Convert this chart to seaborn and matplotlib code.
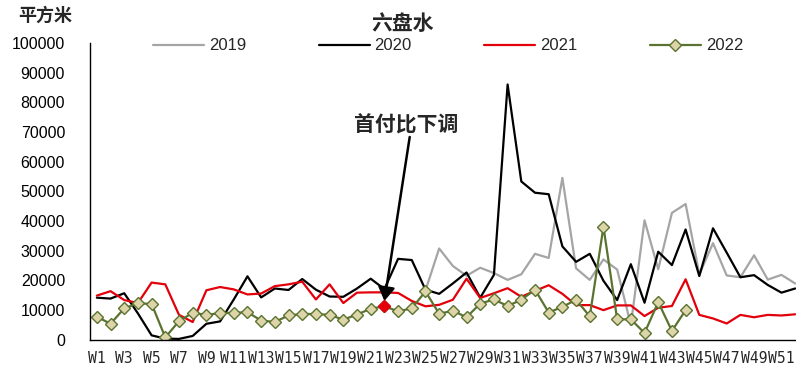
import numpy as np
import pandas as pd
import matplotlib
matplotlib.use("Agg")
import matplotlib.pyplot as plt
from matplotlib import font_manager as fm
import seaborn as sns

nan = np.nan

weeks = [f"W{i}" for i in range(1, 53)]

# weekly transaction area, square metres
s2019 = [nan] * 24 + [
    16500, 30700, 24800, 21500, 24200, 22400, 20100, 22000, 28900, 27500,
    54500, 24000, 20100, 27000, 23600, 4900, 40200, 23700, 42700, 45700,
    22000, 32500, 21600, 21000, 28400, 20200, 21800, 18900]
s2020 = [
    14100, 13800, 15600, 8800, 1400, 300, 200, 1200, 5300, 6100,
    13500, 21300, 14200, 17200, 16700, 20400, 16800, 14500, 14400, 17200,
    20500, 17000, 27200, 26800, 16800, 15400, 18900, 22600, 14100, 21800,
    86000, 53300, 49500, 49000, 31400, 26200, 28900, 19800, 13300, 25400,
    12400, 29600, 25100, 37100, 21400, 37500, 29300, 21000, 21700, 18400,
    15800, 17200]
s2021 = [
    14800, 16300, 13300, 12300, 19200, 18600, 8300, 5900, 16600, 17700,
    16900, 15200, 15500, 18000, 18600, 19500, 13500, 18600, 12300, 15800,
    15900, 15900, 15700, 13000, 11200, 11700, 13400, 20500, 14000, 15600,
    17300, 14400, 16400, 18300, 15400, 11600, 11600, 9900, 11500, 11500,
    7900, 10700, 11300, 20300, 8300, 7100, 5400, 8300, 7500, 8300,
    8100, 8500]
s2022 = [
    7700, 5300, 10500, 12200, 12000, 700, 6200, 9000, 8300, 8900,
    9000, 9200, 6400, 5900, 8100, 8600, 8600, 8300, 6700, 8400,
    10400, 11200, 9500, 10500, 16200, 8700, 9700, 7500, 12100, 13500,
    11300, 13400, 16800, 9100, 11000, 13400, 7800, 38000, 6800, 6800,
    2200, 12600, 2900, 9900] + [nan] * 8

series_names = ["2019", "2020", "2021", "2022"]
highlight_week = "W22"
note_text = "首付比下调"
title_text = "六盘水"
unit_text = "平方米"
y_ticks = list(range(0, 100001, 10000))
y_labels = [str(v) for v in y_ticks]

df = pd.DataFrame({"week": weeks, "2019": s2019, "2020": s2020,
                   "2021": s2021, "2022": s2022})
df["pos"] = np.arange(len(df))

names = {f.name for f in fm.fontManager.ttflist}
latin = "Liberation Sans" if "Liberation Sans" in names else "DejaVu Sans"
if "Liberation Sans Narrow" in names:
    narrow, narrow_size = "Liberation Sans Narrow", 11
else:
    narrow, narrow_size = "DejaVu Sans Mono", 10.6
cjk = ["Noto Sans CJK SC", "DejaVu Sans"]

sns.set_style("white")
plt.rcParams["font.family"] = [latin, "Noto Sans CJK SC"]
plt.rcParams["axes.unicode_minus"] = False

fig = plt.figure(figsize=(7.96, 3.66), dpi=100)
ax = fig.add_axes([90 / 796, 26.5 / 366, 712 / 796, 296.5 / 366])

c_gray, c_black, c_red = "#A5A5A5", "#000000", "#E3000B"
c_green, c_face = "#5B7330", "#DDD5A9"
lw = 1.6
msize = 6

sns.lineplot(data=df, x="pos", y="2019", ax=ax, color=c_gray, lw=lw, label="2019")
sns.lineplot(data=df, x="pos", y="2020", ax=ax, color=c_black, lw=lw, label="2020")
sns.lineplot(data=df, x="pos", y="2021", ax=ax, color=c_red, lw=lw, label="2021")
sns.lineplot(data=df, x="pos", y="2022", ax=ax, color=c_green, lw=lw, label="2022",
             marker="D", markersize=msize, markerfacecolor=c_face,
             markeredgecolor=c_green, markeredgewidth=1.0)

# highlighted 2022 point
hi = df[df["week"] == highlight_week]
ax.plot(hi["pos"], hi["2022"], linestyle="none", marker="D", markersize=msize,
        markerfacecolor=c_red, markeredgecolor=c_red, zorder=5)

ax.set_xlim(-0.5, len(weeks) - 0.5)
ax.set_ylim(0, 100000)
ax.set_xlabel("")
ax.set_ylabel("")

ax.set_yticks(y_ticks)
ax.set_yticklabels(y_labels, fontsize=11.5, fontfamily=latin)
ax.tick_params(axis="y", direction="in", length=4, width=1, pad=18, colors="black")

ax.set_xticks(df["pos"][::2])
ax.set_xticklabels(weeks[::2], fontsize=narrow_size, fontfamily=narrow)
ax.set_xticks(np.arange(-0.5, len(weeks)), minor=True)
ax.tick_params(axis="x", which="major", length=0, pad=8)
ax.tick_params(axis="x", which="minor", direction="in", length=4, width=1)

for side in ("top", "right"):
    ax.spines[side].set_visible(False)
for side in ("left", "bottom"):
    ax.spines[side].set_color("black")
    ax.spines[side].set_linewidth(1.0)

leg = ax.legend(loc="center", bbox_to_anchor=(0.503, 0.99), ncol=4, frameon=False,
                fontsize=12, handlelength=3.05, handletextpad=0.3,
                columnspacing=4.35, borderaxespad=0)
for t in leg.get_texts():
    t.set_fontfamily(latin)

# policy note with arrow
hx = float(hi["pos"].iloc[0])
ax.annotate("", xy=(hx, 13000), xytext=(hx + 1.85, 68300),
            arrowprops=dict(arrowstyle="-|>,head_length=0.45,head_width=0.28",
                            color="black", lw=1.8, mutation_scale=18,
                            shrinkA=0, shrinkB=0))
ax.text(hx + 1.6, 72300, note_text, ha="center", va="center", fontsize=15,
        fontweight="bold", family=cjk)

fig.text(403 / 796, 1 - 23 / 366, title_text, ha="center", va="center",
         fontsize=15, fontweight="bold", family=cjk)
fig.text(18 / 796, 1 - 15 / 366, unit_text, ha="left", va="center",
         fontsize=13, fontweight="bold", family=cjk)

fig.savefig("out.png", dpi=100)
